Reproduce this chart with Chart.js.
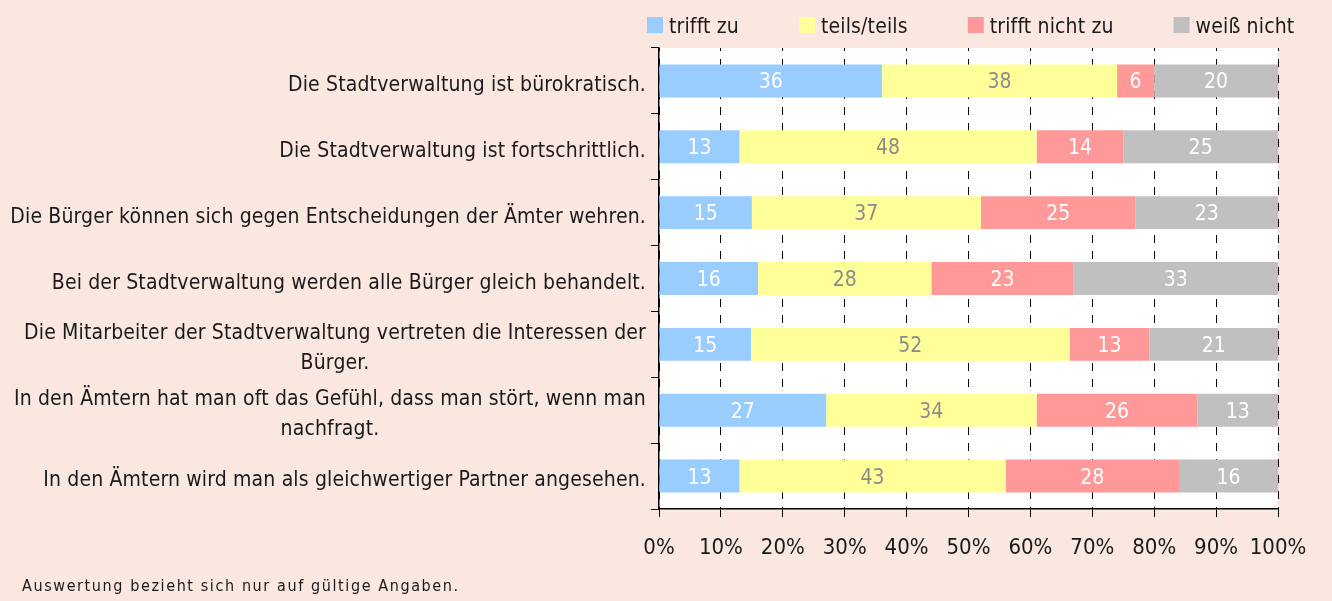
<!DOCTYPE html>
<html>
<head>
<meta charset="utf-8">
<script src="https://cdn.jsdelivr.net/npm/chart.js@4"></script>
<style>
  html, body { margin: 0; padding: 0; background: #FAE8E0; }
  #wrap { position: relative; width: 1332px; height: 601px; }
</style>
</head>
<body>
<div id="wrap"><canvas id="chart"></canvas></div>
<script>
// Daten
const categories = [
  'Die Stadtverwaltung ist bürokratisch.',
  'Die Stadtverwaltung ist fortschrittlich.',
  'Die Bürger können sich gegen Entscheidungen der Ämter wehren.',
  'Bei der Stadtverwaltung werden alle Bürger gleich behandelt.',
  ['Die Mitarbeiter der Stadtverwaltung vertreten die Interessen der', 'Bürger.'],
  ['In den Ämtern hat man oft das Gefühl, dass man stört, wenn man', 'nachfragt.'],
  'In den Ämtern wird man als gleichwertiger Partner angesehen.'
];
const seriesNames = ['trifft zu', 'teils/teils', 'trifft nicht zu', 'weiß nicht'];
const trifftZu = [36, 13, 15, 16, 15, 27, 13];
const teilsTeils = [38, 48, 37, 28, 52, 34, 43];
const trifftNichtZu = [6, 14, 25, 23, 13, 26, 28];
const weissNicht = [20, 25, 23, 33, 21, 13, 16];
const xTicks = [0, 10, 20, 30, 40, 50, 60, 70, 80, 90, 100];
const footnote = 'Auswertung bezieht sich nur auf gültige Angaben.';

const FONT = '"DejaVu Sans Condensed", "Liberation Sans Narrow", sans-serif';
const TEXT = '#1a1a1a';

const allSeries = [trifftZu, teilsTeils, trifftNichtZu, weissNicht];
const colors = ['#99CCFF', '#FFFF99', '#FF9999', '#C0C0C0'];
const labelColors = ['#ffffff', '#8c8c8c', '#ffffff', '#ffffff'];

// 100%-Stapel: Zeilensummen (Rundung kann 101 ergeben)
const rowSums = categories.map((_, j) => allSeries.reduce((s, arr) => s + arr[j], 0));

const datasets = allSeries.map((arr, i) => ({
  label: seriesNames[i],
  data: arr.map((v, j) => v / rowSums[j] * 100),
  rawValues: arr,
  backgroundColor: colors[i],
  borderWidth: 0,
  categoryPercentage: 1,
  barPercentage: 0.5
}));

const decorPlugin = {
  id: 'decor',
  beforeDraw(chart) {
    const { ctx, chartArea: a } = chart;
    ctx.save();
    ctx.fillStyle = '#ffffff';
    ctx.fillRect(a.left, a.top, a.right - a.left, a.bottom - a.top);
    ctx.restore();
  },
  afterDatasetsDraw(chart) {
    const { ctx } = chart;
    ctx.save();
    ctx.font = '21px ' + FONT;
    ctx.textAlign = 'center';
    ctx.textBaseline = 'alphabetic';
    chart.data.datasets.forEach((ds, i) => {
      const meta = chart.getDatasetMeta(i);
      meta.data.forEach((bar, j) => {
        const p = bar.getProps(['x', 'y', 'base'], true);
        ctx.fillStyle = labelColors[i];
        ctx.fillText(String(ds.rawValues[j]), (p.x + p.base) / 2, p.y + 7.5);
      });
    });
    ctx.restore();
  },
  afterDraw(chart) {
    const { ctx } = chart;
    const y = chart.scales.y;
    ctx.save();
    ctx.fillStyle = TEXT;
    ctx.font = '21px ' + FONT;
    ctx.letterSpacing = '0.15px';
    ctx.textBaseline = 'alphabetic';

    // Kategorienbeschriftungen (mehrzeilig zentriert)
    const right = 646;
    const lineH = 30;
    chart.data.labels.forEach((lab, i) => {
      const cy = y.getPixelForTick(i) + 10;
      const lines = Array.isArray(lab) ? lab : [lab];
      if (lines.length === 1) {
        ctx.textAlign = 'right';
        ctx.fillText(lines[0], right, cy);
      } else {
        const w = Math.max(...lines.map(l => ctx.measureText(l).width));
        const cx = right - w / 2;
        ctx.textAlign = 'center';
        lines.forEach((l, k) => {
          ctx.fillText(l, cx, cy + (k - (lines.length - 1) / 2) * lineH);
        });
      }
    });

    // Legende
    let lx = 647;
    ctx.textAlign = 'left';
    chart.data.datasets.forEach((ds) => {
      ctx.fillStyle = ds.backgroundColor;
      ctx.fillRect(lx, 17, 16, 16);
      ctx.fillStyle = TEXT;
      ctx.fillText(ds.label, lx + 22, 33);
      lx += 22 + ctx.measureText(ds.label).width + 60;
    });

    // Fußnote
    ctx.font = '16px ' + FONT;
    ctx.letterSpacing = '1.6px';
    ctx.fillText(footnote, 22, 591);
    ctx.restore();
  }
};

new Chart(document.getElementById('chart'), {
  type: 'bar',
  data: { labels: categories, datasets },
  options: {
    indexAxis: 'y',
    responsive: true,
    maintainAspectRatio: false,
    animation: false,
    layout: { padding: { top: 48, right: 54, left: 0, bottom: 0 } },
    plugins: { legend: { display: false }, tooltip: { enabled: false } },
    scales: {
      x: {
        stacked: true,
        min: 0,
        max: 100,
        afterBuildTicks: (scale) => { scale.ticks = xTicks.map(v => ({ value: v })); },
        afterFit: (scale) => { scale.height = 92; },
        border: { display: true, color: '#000000', width: 1.5, dash: [8, 8], dashOffset: 5 },
        grid: {
          color: '#000000',
          lineWidth: 1,
          tickBorderDash: [],
          tickLength: 8,
          tickColor: '#000000'
        },
        ticks: {
          color: TEXT,
          font: { family: FONT, size: 22 },
          padding: 18,
          autoSkip: false,
          maxRotation: 0,
          minRotation: 0,
          callback: (v) => v + '%'
        }
      },
      y: {
        stacked: true,
        afterFit: (scale) => { scale.width = 659; },
        border: { display: true, color: '#000000', width: 1.5 },
        grid: {
          offset: true,
          drawOnChartArea: false,
          tickLength: 8,
          color: '#000000'
        },
        ticks: { display: false }
      }
    }
  },
  plugins: [decorPlugin]
});
</script>
</body>
</html>
